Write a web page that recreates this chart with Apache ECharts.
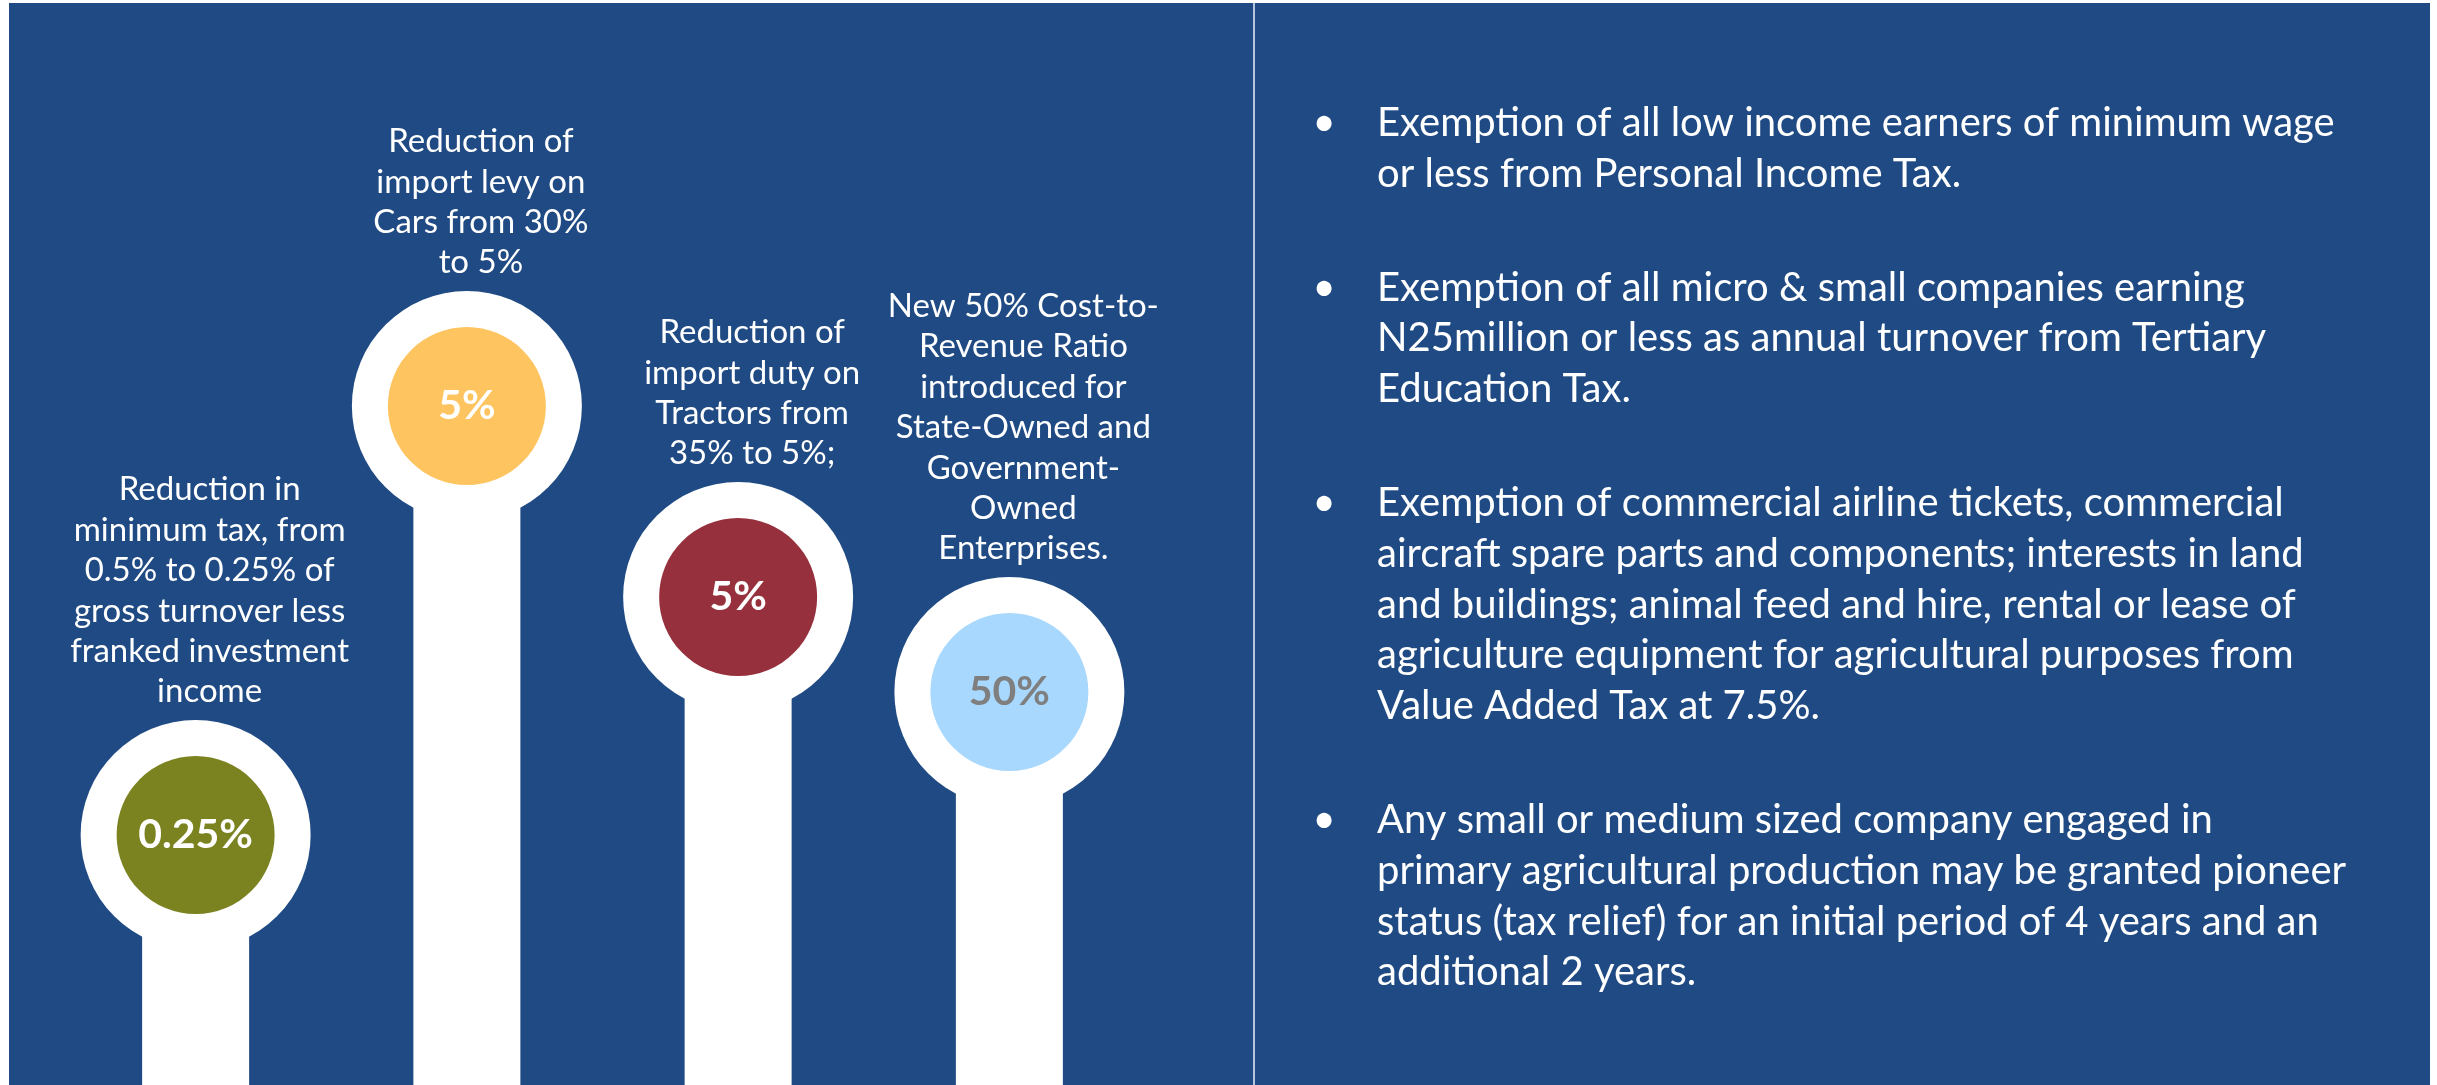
<!DOCTYPE html>
<html>
<head>
<meta charset="utf-8">
<script src="https://cdn.jsdelivr.net/npm/echarts@6/dist/echarts.min.js"></script>
<style>
  html, body { margin: 0; padding: 0; background: #ffffff; }
  #chart { width: 2437px; height: 1085px; }
</style>
</head>
<body>
<div id="chart"></div>
<script>
// ---- Data ----
const categories = ['Minimum tax', 'Car import levy', 'Tractor import duty', 'Cost-to-Revenue Ratio'];
const valueLabels = ['0.25%', '5%', '5%', '50%'];
// height of each pin's circle centre above the bottom edge (picture units)
const pinHeights = [250, 679, 488, 393];
const descriptions = [
  'Reduction in\nminimum tax, from\n0.5% to 0.25% of\ngross turnover less\nfranked investment\nincome',
  'Reduction of\nimport levy on\nCars from 30%\nto 5%',
  'Reduction of\nimport duty on\nTractors from\n35% to 5%;',
  'New 50% Cost-to-\nRevenue Ratio\nintroduced for\nState-Owned and\nGovernment-\nOwned\nEnterprises.'
];
const bulletPoints = [
  ['Exemption of all low income earners of minimum wage',
   'or less from Personal Income Tax.'],
  ['Exemption of all micro & small companies earning',
   'N25million or less as annual turnover from Tertiary',
   'Education Tax.'],
  ['Exemption of commercial airline tickets, commercial',
   'aircraft spare parts and components; interests in land',
   'and buildings; animal feed and hire, rental or lease of',
   'agriculture equipment for agricultural purposes from',
   'Value Added Tax at 7.5%.'],
  ['Any small or medium sized company engaged in',
   'primary agricultural production may be granted pioneer',
   'status (tax relief) for an initial period of 4 years and an',
   'additional 2 years.']
];

// ---- Styles ----
const BG = '#1F4A83';
const pinColors = ['#7B8220', '#FEC460', '#95303C', '#A8D8FD'];
const valueTextColors = ['#ffffff', '#ffffff', '#ffffff', '#7F7F7F'];
const FONT = 'Lato, Carlito, "Open Sans", sans-serif';

// ---- Right panel text as graphic elements ----
const graphics = [
  { type: 'rect', shape: { x: 0, y: 0, width: 9, height: 1085 }, style: { fill: '#ffffff' } },
  { type: 'rect', shape: { x: 0, y: 0, width: 2437, height: 3 }, style: { fill: '#ffffff' } },
  { type: 'rect', shape: { x: 2430, y: 0, width: 7, height: 1085 }, style: { fill: '#ffffff' } },
  { type: 'rect', shape: { x: 1253, y: 3, width: 2, height: 1082 }, style: { fill: '#B4C5DD' } }
];
const LINE_H = 50.8, PARA_GAP = 63;
let y = 97.6;
bulletPoints.forEach(lines => {
  graphics.push({
    type: 'text', x: 1324, y: y,
    style: { text: '•', fill: '#ffffff', fontSize: 40, fontFamily: FONT, lineHeight: LINE_H, align: 'center', verticalAlign: 'top' }
  });
  graphics.push({
    type: 'text', x: 1377, y: y,
    style: { text: lines.join('\n'), fill: '#ffffff', fontSize: 40, fontFamily: FONT, lineHeight: LINE_H, align: 'left', verticalAlign: 'top' }
  });
  y += lines.length * LINE_H + PARA_GAP;
});

const chart = echarts.init(document.getElementById('chart'), null, { renderer: 'canvas' });
chart.setOption({
  backgroundColor: BG,
  animation: false,
  graphic: graphics,
  grid: { left: 60, top: 0, width: 1085, height: 1085 },
  xAxis: { type: 'category', data: categories, show: false, boundaryGap: true },
  yAxis: { type: 'value', min: 0, max: 1085, show: false },
  series: [
    {
      type: 'bar', data: pinHeights, barWidth: 107, silent: true, z: 1,
      itemStyle: { color: '#ffffff' }
    },
    {
      type: 'scatter', data: pinHeights, symbol: 'circle', symbolSize: 230, silent: true, z: 2, clip: false,
      itemStyle: { color: '#ffffff', opacity: 1 },
      label: {
        show: true, position: 'top', distance: 8, offset: [14, 0],
        formatter: p => descriptions[p.dataIndex],
        color: '#ffffff', fontFamily: FONT, fontSize: 33, lineHeight: 40.4, align: 'center'
      }
    },
    {
      type: 'scatter', symbol: 'circle', symbolSize: 158, silent: true, z: 3, clip: false,
      data: pinHeights.map((v, i) => ({
        value: v,
        itemStyle: { color: pinColors[i], opacity: 1 },
        label: { color: valueTextColors[i] }
      })),
      label: {
        show: true, position: 'inside',
        formatter: p => valueLabels[p.dataIndex],
        fontFamily: FONT, fontWeight: 'bold', fontSize: 41
      }
    }
  ]
});
</script>
</body>
</html>
